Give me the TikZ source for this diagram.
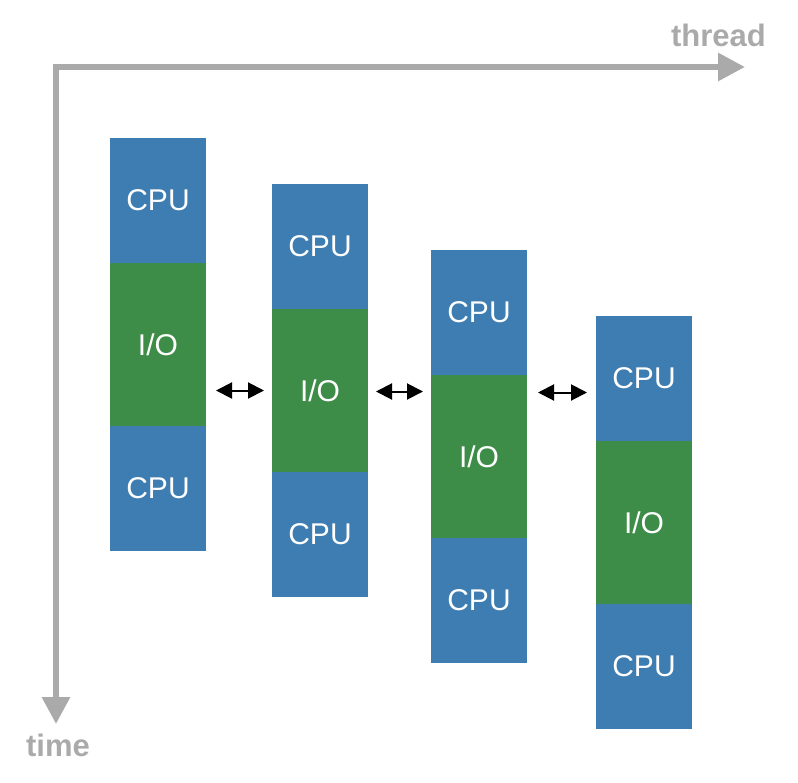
\documentclass[tikz,border=0pt]{standalone}
\usepackage{fontspec}
\setmainfont{Liberation Sans}
\usetikzlibrary{positioning,arrows.meta}
\definecolor{cpublue}{RGB}{61,125,177}
\definecolor{iogreen}{RGB}{61,141,72}
\definecolor{axisgray}{RGB}{170,170,170}

\begin{document}
\begin{tikzpicture}[x=1pt,y=-1pt,node distance=0pt,
  block/.style={minimum width=96pt,inner sep=0pt,outer sep=0pt,text=white,
    font=\fontsize{30}{34}\selectfont},
  cpu/.style={block,fill=cpublue,minimum height=125pt},
  io/.style={block,fill=iogreen,minimum height=163pt},
  axis/.style={draw=axisgray,line width=6pt,line join=miter,
    {Triangle[length=27pt,width=27pt]}-{Triangle[length=27pt,width=27pt]}},
  link/.style={draw=black,line width=2pt,
    {Triangle[length=16pt,width=16pt]}-{Triangle[length=16pt,width=16pt]}},
  axislabel/.style={text=axisgray,inner sep=0pt,font=\fontsize{31}{36}\selectfont\bfseries}]
\useasboundingbox (0,0) rectangle (798,782);

\coordinate (tend) at (56,724);
\coordinate (thend) at (745,67);
\draw[axis] (tend) |- (thend);
\node[axislabel, anchor=east] (thread) at (766,35) {thread};
\node[axislabel] (time) at (58,745) {time};

\node[cpu, anchor=north] (cpua1) at (158,138) {CPU};
\node[io, below=of cpua1] (io1) {I/O};
\node[cpu, below=of io1] (cpub1) {CPU};

\node[cpu, anchor=north] (cpua2) at (320,184) {CPU};
\node[io, below=of cpua2] (io2) {I/O};
\node[cpu, below=of io2] (cpub2) {CPU};

\node[cpu, anchor=north] (cpua3) at (479,250) {CPU};
\node[io, below=of cpua3] (io3) {I/O};
\node[cpu, below=of io3] (cpub3) {CPU};

\node[cpu, anchor=north] (cpua4) at (644,316) {CPU};
\node[io, below=of cpua4] (io4) {I/O};
\node[cpu, below=of io4] (cpub4) {CPU};

\draw[link] ([xshift=10pt]io1.east |- io2.west) -- ([xshift=-8pt]io2.west);
\draw[link] ([xshift=8pt,yshift=-1pt]io2.east) -- ([xshift=-8pt,yshift=-1pt]io3.west |- io2.east);
\draw[link] ([xshift=11pt,yshift=-2pt]io3.east |- io2.east) -- ([xshift=-9pt,yshift=-2pt]cpua4.west |- io2.east);
\end{tikzpicture}
\end{document}
